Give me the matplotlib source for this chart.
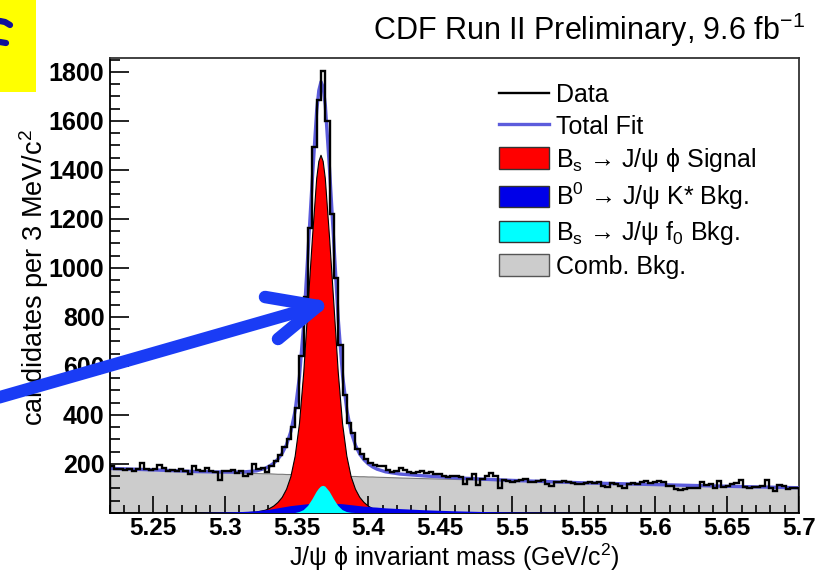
import numpy as np
import matplotlib
matplotlib.use("Agg")
import matplotlib.pyplot as plt
from matplotlib.lines import Line2D
from matplotlib.patches import Patch, Rectangle
from matplotlib.ticker import FixedLocator, FixedFormatter, MultipleLocator

plt.rcParams['font.family'] = ['Liberation Sans', 'DejaVu Sans']
plt.rcParams['mathtext.fontset'] = 'custom'
plt.rcParams['mathtext.rm'] = 'Liberation Sans'
plt.rcParams['mathtext.it'] = 'Liberation Sans:italic'
plt.rcParams['mathtext.bf'] = 'Liberation Sans:bold'

# ---------------- data ----------------
mass_lo = 5.22
bin_width = 0.003   # GeV (3 MeV bins)

data_counts = [
    192, 178, 180, 176, 180, 172, 178, 204, 180, 175,
    178, 196, 182, 170, 176, 172, 180, 171, 160, 192,
    176, 170, 184, 172, 168, 134, 172, 170, 176, 165,
    172, 152, 160, 200, 178, 182, 168, 192, 212, 236,
    268, 300, 350, 430, 640, 880, 1165, 1495, 1686, 1805,
    1600, 1220, 959, 686, 482, 367, 326, 262, 240, 222,
    205, 195, 190, 192, 176, 168, 170, 182, 176, 168,
    162, 166, 170, 165, 168, 158, 160, 150, 148, 152,
    150, 148, 118, 140, 160, 116, 140, 150, 162, 150,
    104, 135, 130, 126, 130, 134, 138, 128, 126, 132,
    134, 118, 112, 128, 126, 130, 126, 122, 120, 118,
    124, 128, 124, 126, 112, 108, 122, 120, 110, 104,
    118, 122, 120, 126, 130, 124, 128, 132, 126, 112,
    110, 96, 92, 96, 100, 102, 104, 128, 114, 118,
    100, 132, 108, 110, 118, 122, 134, 108, 100, 106,
    108, 110, 134, 102, 90, 114, 110, 96, 104, 104,
]

fit_mass = [5.220, 5.250, 5.280, 5.300, 5.312, 5.322, 5.328, 5.331, 5.334, 5.337,
            5.340, 5.343, 5.346, 5.349, 5.352, 5.355, 5.358, 5.361, 5.364, 5.3655,
            5.367, 5.3685, 5.370, 5.373, 5.376, 5.379, 5.382, 5.385, 5.388, 5.391,
            5.394, 5.397, 5.400, 5.403, 5.406, 5.412, 5.422, 5.440, 5.460, 5.480,
            5.500, 5.550, 5.600, 5.650, 5.700]

signal_bs = [0, 0, 0, 0, 0, 4, 11, 18, 28, 43,
             64, 97, 148, 232, 365, 575, 850, 1120, 1365, 1435,
             1460, 1435, 1365, 1120, 850, 575, 365, 232, 148, 97,
             64, 43, 28, 18, 11, 4, 0, 0, 0, 0,
             0, 0, 0, 0, 0]

bkg_b0_kstar = [0, 0, 0, 2, 4, 7, 11, 13, 16, 19,
                22, 25, 28, 30, 32, 34, 36, 37, 38, 38,
                39, 39, 39, 39, 38, 37, 36, 34, 32, 30,
                28, 26, 25, 23, 22, 19, 16, 11, 7, 4,
                2, 0, 0, 0, 0]

bkg_bs_f0 = [0, 0, 0, 0, 0, 0, 0, 0, 0, 0,
             0, 0, 0, 0, 4, 12, 29, 56, 87, 99,
             108, 111, 108, 87, 56, 29, 12, 4, 1, 0,
             0, 0, 0, 0, 0, 0, 0, 0, 0, 0,
             0, 0, 0, 0, 0]

bkg_comb = [182, 176, 169, 165, 163, 161, 160, 160, 159, 158,
            158, 157, 157, 156, 156, 155, 155, 154, 153, 153,
            153, 153, 152, 152, 151, 151, 150, 150, 149, 149,
            148, 148, 147, 147, 146, 145, 143, 140, 137, 134,
            131, 123, 116, 109, 103]

x_ticks = [5.25, 5.30, 5.35, 5.40, 5.45, 5.50, 5.55, 5.60, 5.65, 5.70]
x_tick_labels = ["5.25", "5.3", "5.35", "5.4", "5.45", "5.5", "5.55", "5.6", "5.65", "5.7"]
y_ticks = [200, 400, 600, 800, 1000, 1200, 1400, 1600, 1800]
y_tick_labels = ["200", "400", "600", "800", "1000", "1200", "1400", "1600", "1800"]

legend_labels = ["Data", "Total Fit",
                 r"B$_\mathregular{s}$ → J/ψ ϕ Signal",
                 r"B$^\mathregular{0}$ → J/ψ K* Bkg.",
                 r"B$_\mathregular{s}$ → J/ψ f$_\mathregular{0}$ Bkg.",
                 "Comb. Bkg."]

# ---------------- figure ----------------
W, H = 825, 576
fig = plt.figure(figsize=(W / 100, H / 100), dpi=100)
ax_l, ax_r, ax_t, ax_b = 110, 799, 58, 513
ax = fig.add_axes([ax_l / W, 1 - ax_b / H, (ax_r - ax_l) / W, (ax_b - ax_t) / H])

n_bins = len(data_counts)
edges = mass_lo + bin_width * np.arange(n_bins + 1)
fm = np.array(fit_mass)
sig = np.array(signal_bs, float)
b0 = np.array(bkg_b0_kstar, float)
f0 = np.array(bkg_bs_f0, float)
comb = np.array(bkg_comb, float)
total = sig + b0 + f0 + comb

col_sig = '#ff0000'
col_b0 = '#0000e8'
col_f0 = '#00ffff'
col_comb = '#cccccc'
col_fit = '#5c5cdc'

ax.fill_between(fm, 0, comb, facecolor=col_comb, edgecolor='none', zorder=1)
ax.plot(fm, comb, color='#7a7a7a', lw=0.8, zorder=1.1)
ax.fill_between(fm, 0, sig, facecolor=col_sig, edgecolor='none', zorder=2)
ax.plot(fm, sig, color='black', lw=0.8, zorder=2.1)
ax.fill_between(fm, 0, b0, facecolor=col_b0, edgecolor='none', zorder=3)
ax.fill_between(fm, 0, f0, facecolor=col_f0, edgecolor='none', zorder=4)
ax.plot(fm, total, color=col_fit, lw=2.4, zorder=5, solid_joinstyle='round')
ax.stairs(data_counts, edges, color='black', lw=1.7, zorder=6)

ax.set_xlim(5.22, 5.70)
ax.set_ylim(0, 1857)

ax.xaxis.set_major_locator(FixedLocator(x_ticks))
ax.xaxis.set_major_formatter(FixedFormatter(x_tick_labels))
ax.xaxis.set_minor_locator(MultipleLocator(0.01))
ax.yaxis.set_major_locator(FixedLocator(y_ticks))
ax.yaxis.set_major_formatter(FixedFormatter(y_tick_labels))
ax.yaxis.set_minor_locator(MultipleLocator(50))

ax.tick_params(which='both', direction='in', top=False, right=False, width=1.2, colors='black')
ax.tick_params(axis='y', which='major', length=14, pad=4, labelsize=18)
ax.tick_params(axis='y', which='minor', length=7)
ax.tick_params(axis='x', which='major', length=12, pad=3, labelsize=17.5)
ax.tick_params(axis='x', which='minor', length=6)
for lab in ax.get_xticklabels() + ax.get_yticklabels():
    lab.set_fontweight('bold')
for sp in ax.spines.values():
    sp.set_linewidth(1.3)
    sp.set_color('black')
ax.spines['top'].set_color('#333333')
ax.spines['right'].set_color('#333333')

ax.set_xlabel(r"J/ψ ϕ invariant mass (GeV/c$^\mathregular{2}$)", fontsize=18)
ax.xaxis.label.set_va('center')
ax.xaxis.set_label_coords(0.5, -(557 - ax_b) / (ax_b - ax_t))
ax.set_ylabel(r"candidates per 3 MeV/c$^\mathregular{2}$", fontsize=19.5)
ax.yaxis.label.set_va('center')
ax.yaxis.set_label_coords(-(ax_l - 34) / (ax_r - ax_l), (ax_b - 278) / (ax_b - ax_t))

fig.text(805 / W, 1 - 40 / H, r"CDF Run II Preliminary, 9.6 fb$^\mathregular{-1}$",
         ha='right', va='baseline', fontsize=22)

handles = [Line2D([], [], color='black', lw=1.7),
           Line2D([], [], color=col_fit, lw=2.4),
           Patch(facecolor=col_sig, edgecolor='#333333', lw=1.0),
           Patch(facecolor=col_b0, edgecolor='#333333', lw=1.0),
           Patch(facecolor=col_f0, edgecolor='#333333', lw=1.0),
           Patch(facecolor=col_comb, edgecolor='#555555', lw=1.0)]
ax.legend(handles, legend_labels, loc='upper left',
          bbox_to_anchor=(499 / W, 1 - 83 / H), bbox_transform=fig.transFigure,
          frameon=False, fontsize=18, handlelength=2.0, handleheight=0.95,
          handletextpad=0.3, labelspacing=0.28, borderpad=0, borderaxespad=0)

# yellow box with partial blue mark (top-left annotation)
fig.patches.append(Rectangle((0, 1 - 92 / H), 36 / W, 92 / H, transform=fig.transFigure,
                             facecolor='#ffff00', edgecolor='none', zorder=0))
fig.add_artist(Line2D([0 / W, 5 / W, 10 / W], [1 - 21 / H, 1 - 22 / H, 1 - 25 / H],
                      transform=fig.transFigure, color='#10109a', lw=4.5,
                      solid_capstyle='round'))
fig.add_artist(Line2D([0 / W, 6 / W], [1 - 42 / H, 1 - 43 / H],
                      transform=fig.transFigure, color='#10109a', lw=4.5,
                      solid_capstyle='round'))

# big blue arrow pointing at the signal peak
arrow_col = '#1a3cf5'
tip = (318, 306)
for start in [(-10, 400), (265, 297), (278, 339)]:
    fig.add_artist(Line2D([start[0] / W, tip[0] / W], [1 - start[1] / H, 1 - tip[1] / H],
                          transform=fig.transFigure, color=arrow_col, lw=9,
                          solid_capstyle='round', zorder=10))

fig.savefig("out.png", dpi=100)
